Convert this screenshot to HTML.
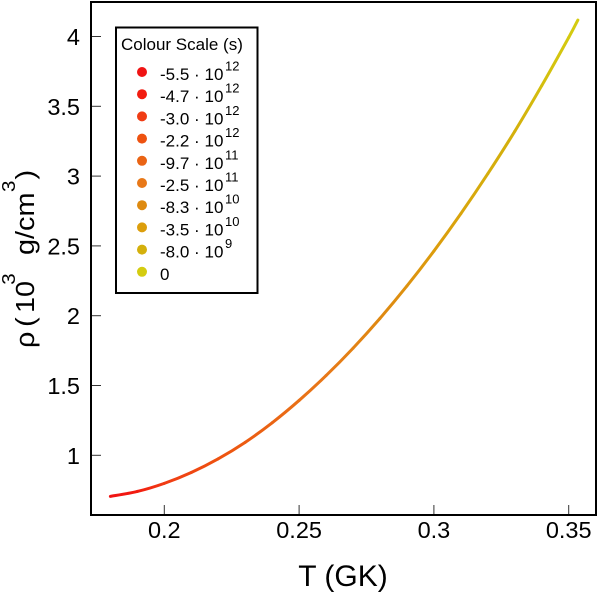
<!DOCTYPE html>
<html lang="en">
<head>
<meta charset="utf-8">
<title>Density vs temperature</title>
<style>
html,body{margin:0;padding:0;background:#fff;}
svg{display:block;font-family:"Liberation Sans",Arial,sans-serif;fill:#000;}
</style>
</head>
<body>
<svg id="chart" xmlns="http://www.w3.org/2000/svg" width="600" height="592" viewBox="0 0 600 592">
  <defs id="grads"></defs>
  <g id="ticks"></g>
  <g id="curve" fill="none"></g>
  <rect x="91" y="2" width="505" height="513" fill="none" stroke="#000" stroke-width="2"></rect>
  <g id="legend">
    <rect x="116" y="27.5" width="141.5" height="265.5" fill="#fff" stroke="#000" stroke-width="2"></rect>
    <text x="121" y="50" font-size="17">Colour Scale (s)</text>
  </g>
  <text x="343" y="586" font-size="30" text-anchor="middle">T (GK)</text>
  <text transform="translate(34,348) rotate(-90) scale(1.11,1)" font-size="26"><tspan x="0" y="0">ρ</tspan><tspan x="19" y="0">(</tspan><tspan x="31.5" y="0">10</tspan><tspan x="57" y="-19" font-size="18.5">3</tspan><tspan x="83.8" y="0">g/cm</tspan><tspan x="140.5" y="-19" font-size="18.5">3</tspan><tspan x="151.8" y="0">)</tspan></text>
</svg>
<script>
const xTicks = [0.2, 0.25, 0.3, 0.35];
const xTickLabels = ["0.2", "0.25", "0.3", "0.35"];
const yTicks = [1, 1.5, 2, 2.5, 3, 3.5, 4];
const yTickLabels = ["1", "1.5", "2", "2.5", "3", "3.5", "4"];

const temperature = [0.18, 0.19, 0.20, 0.21, 0.22, 0.23, 0.24, 0.25, 0.26, 0.27, 0.28, 0.29, 0.30, 0.31, 0.32, 0.33, 0.34, 0.35, 0.3534];
const density = [0.706, 0.741, 0.799, 0.877, 0.975, 1.093, 1.233, 1.393, 1.571, 1.767, 1.981, 2.213, 2.463, 2.731, 3.017, 3.321, 3.648, 3.993, 4.118];
const timescale = [-5.5e12, -4.7e12, -3.0e12, -2.6e12, -2.2e12, -1.5e12, -9.7e11, -5e11, -2.5e11, -1.6e11, -1e11, -6.5e10, -4e10, -2.5e10, -1.3e10, -8e9, -4e9, -1e9, 0];

const legendMantissa = ["-5.5", "-4.7", "-3.0", "-2.2", "-9.7", "-2.5", "-8.3", "-3.5", "-8.0", "0"];
const legendExponent = [12, 12, 12, 12, 11, 11, 10, 10, 9, null];
const legendColours = ["#f01414", "#f21c10", "#f03c14", "#ee5210", "#ea6414", "#e87818", "#de8a10", "#dc9e0c", "#d4b00c", "#d4cc10"];

const NS = "http://www.w3.org/2000/svg";
const xScale = function (v) { return 164.3 + (v - 0.2) * 2696; };
const yScale = function (v) { return 455.3 - (v - 1) * 139.6; };
const legendRowY = function (i) { return 72 + i * 22.2; };

function make(tag, attrs, parent, content) {
  const el = document.createElementNS(NS, tag);
  Object.keys(attrs).forEach(function (k) { el.setAttribute(k, attrs[k]); });
  if (content !== undefined) el.textContent = content;
  parent.appendChild(el);
  return el;
}
function hexToRgb(h) {
  return [parseInt(h.substr(1, 2), 16), parseInt(h.substr(3, 2), 16), parseInt(h.substr(5, 2), 16)];
}
function legendValue(i) {
  return legendExponent[i] === null ? 0 : parseFloat(legendMantissa[i]) * Math.pow(10, legendExponent[i]);
}
function colourFor(t) {
  for (let i = 0; i < legendColours.length - 1; i++) {
    const a = legendValue(i), b = legendValue(i + 1);
    if (t <= b) {
      const f = Math.max(0, (t - a) / (b - a));
      const c0 = hexToRgb(legendColours[i]), c1 = hexToRgb(legendColours[i + 1]);
      return "rgb(" + c0.map(function (c, k) { return Math.round(c + (c1[k] - c) * f); }).join(",") + ")";
    }
  }
  return legendColours[legendColours.length - 1];
}

const tickGroup = document.getElementById("ticks");
xTicks.forEach(function (v, i) {
  const line = make("line", { x1: xScale(v), x2: xScale(v), y1: 515, y2: 505, stroke: "#333", "stroke-width": 1 }, tickGroup);
  
  
  const label = make("text", { x: xScale(v), y: 538, "font-size": 23.5, "text-anchor": "middle" }, tickGroup, xTickLabels[i]);
  
  
});
yTicks.forEach(function (v, i) {
  const line = make("line", { x1: 91, x2: 101, y1: yScale(v), y2: yScale(v), stroke: "#333", "stroke-width": 1 }, tickGroup);
  
  
  const label = make("text", { x: 80, y: yScale(v) + 8.5, "font-size": 23.5, "text-anchor": "end" }, tickGroup, yTickLabels[i]);
  
  
});

const curveGroup = document.getElementById("curve");
const defs = document.getElementById("grads");
const pts = temperature.map(function (t, i) { return [xScale(t), yScale(density[i])]; });
for (let i = 0; i < pts.length - 1; i++) {
  const p0 = pts[Math.max(0, i - 1)], p1 = pts[i], p2 = pts[i + 1], p3 = pts[Math.min(pts.length - 1, i + 2)];
  const c1 = [p1[0] + (p2[0] - p0[0]) / 6, p1[1] + (p2[1] - p0[1]) / 6];
  const c2 = [p2[0] - (p3[0] - p1[0]) / 6, p2[1] - (p3[1] - p1[1]) / 6];
  const grad = make("linearGradient", { id: "seg" + i, gradientUnits: "userSpaceOnUse", x1: p1[0], y1: p1[1], x2: p2[0], y2: p2[1] }, defs);
  make("stop", { offset: "0", "stop-color": colourFor(timescale[i]) }, grad);
  make("stop", { offset: "1", "stop-color": colourFor(timescale[i + 1]) }, grad);
  const seg = make("path", {
    d: "M" + p1[0] + " " + p1[1] + "C" + c1[0] + " " + c1[1] + " " + c2[0] + " " + c2[1] + " " + p2[0] + " " + p2[1],
    stroke: "url(#seg" + i + ")", "stroke-width": 3, "stroke-linecap": "round"
  }, curveGroup);
  
  
}

const legendGroup = document.getElementById("legend");
legendMantissa.forEach(function (m, i) {
  const y = legendRowY(i);
  const dot = make("circle", { cx: 142, cy: y, r: 5, fill: legendColours[i] }, legendGroup);
  
  
  const text = make("text", { x: 160, y: y + 8, "font-size": 17 }, legendGroup, m);
  
  
  if (legendExponent[i] !== null) {
    const cdot = make("text", { x: 194, y: y + 8, "font-size": 17 }, legendGroup, "·");
    
    
    const base = make("text", { x: 204.5, y: y + 8, "font-size": 17 }, legendGroup, "10");
    
    
    const exp = make("text", { x: 225, y: y - 1.5, "font-size": 13 }, legendGroup, String(legendExponent[i]));
    
    
  }
});
</script>
</body>
</html>
